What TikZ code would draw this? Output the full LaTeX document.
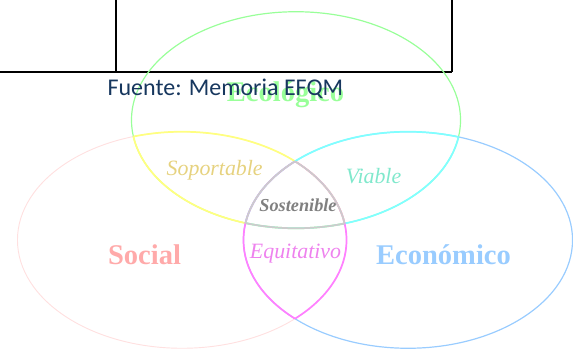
\documentclass[tikz,border=0pt]{standalone}
\usepackage{fontspec}
\setmainfont{Liberation Serif}
\newfontfamily\calibri{Carlito}
\usetikzlibrary{positioning}
\definecolor{socline}{HTML}{FFE0E0}
\definecolor{ecoline}{HTML}{99FF99}
\definecolor{ecnline}{HTML}{99CCFF}
\definecolor{seamyellow}{HTML}{FFFF80}
\definecolor{seamcyan}{HTML}{80FFFF}
\definecolor{seammagenta}{HTML}{FF80FF}
\definecolor{seamgrey}{HTML}{CCCCCC}
\definecolor{soctext}{HTML}{FFAAAA}
\definecolor{ecotext}{HTML}{99FF99}
\definecolor{ecntext}{HTML}{99CCFF}
\definecolor{soptext}{HTML}{E6D27F}
\definecolor{viatext}{HTML}{80E8CC}
\definecolor{equtext}{HTML}{EE82EE}
\definecolor{sosttext}{HTML}{808080}
\definecolor{srcblue}{HTML}{17375E}
\tikzset{
  oval/.style={x radius=123.4pt, y radius=81.2pt},
  rim/.style={draw=#1, line width=0.9pt},
  seam/.style={draw=#1, line width=1.3pt},
  big/.style={anchor=base, text=#1, font=\bfseries\fontsize{21.4}{24}\selectfont},
  mid/.style={anchor=base, text=#1, font=\itshape\fontsize{16.4}{20}\selectfont},
  rule/.style={line width=1.5pt},
}
\begin{document}
\begin{tikzpicture}[x=0.75pt, y=-0.75pt]
    \useasboundingbox (0,0) rectangle (573,349);
    \coordinate (eco) at (296,120);
    \coordinate (soc) at (182,240);
    \coordinate (ecn) at (408,240);
    % table borders
    \draw[rule] (0,72) -- (452,72) (116,0) -- (116,72) (452,0) -- (452,72);
    % the three sets
    \draw[rim=socline, line width=0.7pt] (soc) ellipse[oval];
    \draw[rim=ecoline] (eco) ellipse[oval];
    \draw[rim=ecnline] (ecn) ellipse[oval];
    % two at a time
    \foreach \a/\b/\col in {soc/eco/seamyellow, eco/soc/seamyellow, ecn/eco/seamcyan,
        eco/ecn/seamcyan, ecn/soc/seammagenta, soc/ecn/seammagenta} {
      \begin{scope}
        \clip (\b) ellipse[oval];
        \draw[seam=\col] (\a) ellipse[oval];
      \end{scope}
    }
    % all three
    \foreach \a/\b/\c in {eco/soc/ecn, soc/eco/ecn, ecn/eco/soc} {
      \begin{scope}
        \clip (\b) ellipse[oval];
        \clip (\c) ellipse[oval];
        \draw[seam=seamgrey] (\a) ellipse[oval];
      \end{scope}
    }
    \node[big=ecotext] (ecolbl) at (285.5,102) {Ecológico};
    \node[big=soctext] (soclbl) at (144.5,264) {Social};
    \node[big=ecntext] (ecnlbl) at (443.5,264) {Económico};
    \node[mid=soptext] (soplbl) at (214.7,175) {Soportable};
    \node[mid=viatext] (vialbl) at (373.5,183) {Viable};
    \node[mid=equtext] (equlbl) at (295.5,258) {Equitativo};
    \node[anchor=base, text=sosttext, font=\bfseries\itshape\fontsize{13.7}{16}\selectfont] (sostlbl) at (298,211.5) {Sostenible};
    \node[anchor=base, text=srcblue, font=\calibri\fontsize{18}{22}\selectfont] (srclbl) at (225.4,95.7) {Fuente: Memoria EFQM};
\end{tikzpicture}
\end{document}
